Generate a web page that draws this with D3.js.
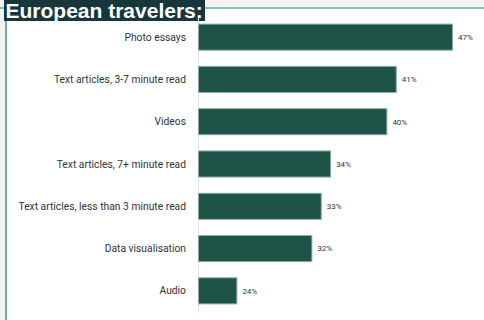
<!DOCTYPE html>
<html>
<head>
<meta charset="utf-8">
<script src="https://cdn.jsdelivr.net/npm/d3@7"></script>
<style>
  body { margin: 0; background: #fff; }
  svg { display: block; }
</style>
</head>
<body>
<div id="chart"></div>
<script>
var categories = ["Photo essays", "Text articles, 3-7 minute read", "Videos",
  "Text articles, 7+ minute read", "Text articles, less than 3 minute read",
  "Data visualisation", "Audio"];
var values = [47, 41, 40, 34, 33, 32, 24];
var title = "European travelers:";

var svg_Width = 484;
var svg_Height = 320;

var svg = d3.select("#chart")
  .append("svg")
  .attr("width", svg_Width)
  .attr("height", svg_Height);

// frame: grey strips with teal rules
svg.append("rect").attr("x", 0).attr("y", 0).attr("width", svg_Width).attr("height", 7).attr("fill", "#f3f3f3");
svg.append("rect").attr("x", 0).attr("y", 0).attr("width", 5).attr("height", svg_Height).attr("fill", "#f3f3f3");
svg.append("rect").attr("x", 0).attr("y", 7).attr("width", svg_Width).attr("height", 2).attr("fill", "#86c2b3");
svg.append("rect").attr("x", 5).attr("y", 0).attr("width", 2).attr("height", svg_Height).attr("fill", "#6db3a3");

// title box
svg.append("rect").attr("x", 4).attr("y", 0).attr("width", 201).attr("height", 21).attr("fill", "#17373d");
svg.append("text")
  .attr("x", 5.5).attr("y", 18)
  .attr("font-family", "Liberation Sans, Arial, sans-serif")
  .attr("font-weight", "bold")
  .attr("font-size", "21px")
  .attr("fill", "#fff")
  .text(title);

var xScale = d3.scaleLinear().domain([19.8, 47]).range([198, 453]);
var yScale = d3.scaleBand().domain(categories).range([16, 312]).paddingInner(0.36).paddingOuter(0.18);

// axis line
svg.append("line")
  .attr("x1", 198.5).attr("x2", 198.5)
  .attr("y1", 17).attr("y2", 313)
  .attr("stroke", "#e3e8f4").attr("stroke-width", 1);

svg.selectAll(".bar")
  .data(values)
  .enter()
  .append("rect")
  .attr("class", "bar")
  .attr("x", xScale(19.8) + 0.5)
  .attr("y", function(d, i) { return yScale(categories[i]) + 0.5; })
  .attr("width", function(d) { return xScale(d) - xScale(19.8) - 1; })
  .attr("height", yScale.bandwidth() - 1)
  .attr("fill", "#1d5447")
  .attr("stroke", "#8aaca4")
  .attr("stroke-width", 1);

svg.selectAll(".cat")
  .data(categories)
  .enter()
  .append("text")
  .attr("class", "cat")
  .attr("x", 186)
  .attr("y", function(d) { return yScale(d) + yScale.bandwidth() / 2; })
  .attr("dy", "0.35em")
  .attr("text-anchor", "end")
  .attr("font-family", "Roboto, sans-serif")
  .attr("font-size", "10.3px")
  .attr("fill", "#333")
  .text(function(d) { return d; });

svg.selectAll(".val")
  .data(values)
  .enter()
  .append("text")
  .attr("class", "val")
  .attr("x", function(d) { return xScale(d) + 5; })
  .attr("y", function(d, i) { return yScale(categories[i]) + yScale.bandwidth() / 2; })
  .attr("dy", "0.35em")
  .attr("font-family", "Roboto, sans-serif")
  .attr("font-size", "8px")
  .attr("fill", "#333")
  .text(function(d) { return d + "%"; });
</script>
</body>
</html>
